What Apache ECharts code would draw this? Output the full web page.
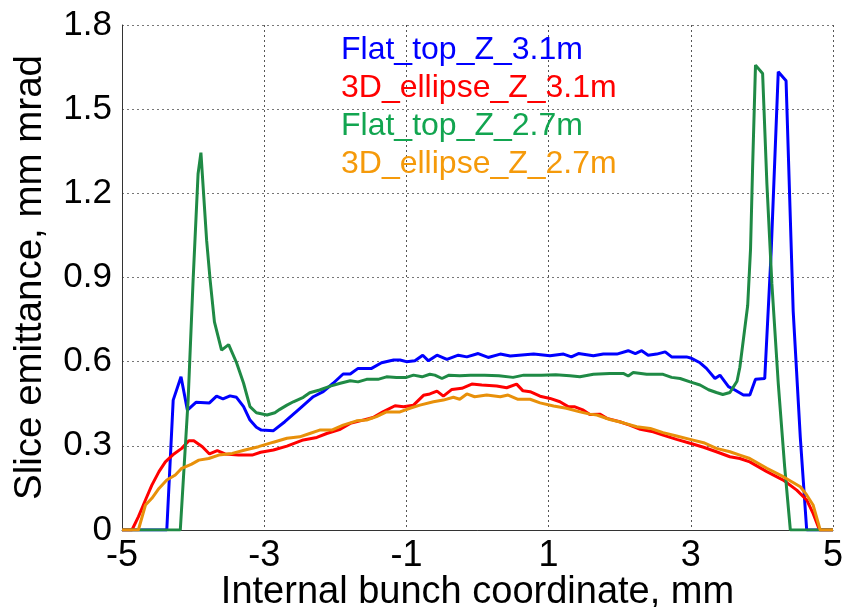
<!DOCTYPE html>
<html>
<head>
<meta charset="utf-8">
<script src="https://cdn.jsdelivr.net/npm/echarts@6/dist/echarts.min.js"></script>
<style>
html,body{margin:0;padding:0;background:#fff;}
#c{width:846px;height:607px;}
</style>
</head>
<body>
<div id="c"></div>
<script>
// ---- data ----
const seriesNames = ['Flat_top_Z_3.1m', '3D_ellipse_Z_3.1m', 'Flat_top_Z_2.7m', '3D_ellipse_Z_2.7m'];

const xFlat31 = [-5, -4.37, -4.28, -4.17, -4.08, -3.96, -3.77, -3.67, -3.58, -3.48, -3.39, -3.29, -3.20, -3.11, -3.04, -2.87, -2.71, -2.50, -2.31, -2.17, -2.03, -1.89, -1.79, -1.68, -1.49, -1.35, -1.18, -1.09, -1.00, -0.88, -0.77, -0.69, -0.57, -0.43, -0.27, -0.15, 0.01, 0.15, 0.32, 0.46, 0.79, 1.02, 1.21, 1.32, 1.42, 1.63, 1.77, 1.96, 2.12, 2.22, 2.31, 2.40, 2.52, 2.64, 2.73, 2.94, 3.01, 3.13, 3.22, 3.34, 3.41, 3.53, 3.62, 3.74, 3.83, 3.91, 4.04, 4.13, 4.23, 4.34, 4.44, 4.54, 4.63, 5];
const yFlat31 = [0, 0, 0.463, 0.546, 0.427, 0.455, 0.453, 0.477, 0.467, 0.478, 0.473, 0.440, 0.392, 0.366, 0.356, 0.354, 0.386, 0.433, 0.475, 0.493, 0.523, 0.556, 0.556, 0.576, 0.576, 0.596, 0.606, 0.606, 0.600, 0.603, 0.623, 0.603, 0.623, 0.608, 0.623, 0.617, 0.629, 0.615, 0.627, 0.620, 0.627, 0.621, 0.627, 0.617, 0.629, 0.621, 0.627, 0.627, 0.639, 0.629, 0.639, 0.623, 0.627, 0.635, 0.617, 0.617, 0.612, 0.596, 0.576, 0.540, 0.552, 0.511, 0.499, 0.481, 0.481, 0.537, 0.540, 0.990, 1.633, 1.601, 0.780, 0.330, 0, 0];

const xEll31 = [-5, -4.86, -4.77, -4.67, -4.58, -4.48, -4.39, -4.27, -4.16, -4.06, -3.99, -3.87, -3.77, -3.66, -3.55, -3.36, -3.17, -3.05, -2.87, -2.68, -2.45, -2.26, -2.12, -1.93, -1.79, -1.65, -1.47, -1.33, -1.16, -1.04, -0.90, -0.76, -0.67, -0.57, -0.48, -0.36, -0.22, -0.08, 0.06, 0.27, 0.41, 0.55, 0.64, 0.74, 0.88, 1.02, 1.16, 1.28, 1.37, 1.49, 1.58, 1.72, 1.82, 2.00, 2.14, 2.29, 2.47, 2.61, 2.80, 2.99, 3.18, 3.36, 3.55, 3.69, 3.83, 4.07, 4.30, 4.49, 4.63, 4.72, 4.81, 5];
const yEll31 = [0, 0, 0.047, 0.107, 0.160, 0.208, 0.243, 0.271, 0.291, 0.318, 0.318, 0.297, 0.271, 0.283, 0.271, 0.267, 0.267, 0.277, 0.285, 0.299, 0.321, 0.330, 0.344, 0.359, 0.380, 0.389, 0.401, 0.421, 0.443, 0.439, 0.445, 0.480, 0.485, 0.495, 0.477, 0.501, 0.505, 0.520, 0.517, 0.513, 0.507, 0.520, 0.496, 0.493, 0.477, 0.469, 0.457, 0.439, 0.439, 0.427, 0.412, 0.413, 0.398, 0.386, 0.374, 0.359, 0.350, 0.338, 0.323, 0.309, 0.295, 0.279, 0.261, 0.255, 0.243, 0.208, 0.178, 0.142, 0.107, 0.059, 0, 0];

const xFlat27 = [-5, -4.18, -4.07, -4.00, -3.93, -3.89, -3.81, -3.76, -3.70, -3.60, -3.50, -3.39, -3.29, -3.20, -3.11, -2.96, -2.85, -2.78, -2.68, -2.59, -2.45, -2.36, -2.22, -2.07, -1.93, -1.79, -1.68, -1.56, -1.40, -1.28, -1.14, -1.00, -0.90, -0.78, -0.67, -0.60, -0.50, -0.40, -0.25, -0.10, 0.10, 0.30, 0.50, 0.65, 0.90, 1.10, 1.30, 1.44, 1.63, 1.86, 2.05, 2.12, 2.19, 2.38, 2.61, 2.73, 2.85, 2.99, 3.13, 3.25, 3.36, 3.45, 3.55, 3.60, 3.65, 3.69, 3.74, 3.80, 3.84, 3.87, 3.91, 4.01, 4.07, 4.14, 4.23, 4.32, 4.40, 5];
const yFlat27 = [0, 0, 0.463, 0.890, 1.270, 1.345, 1.033, 0.890, 0.742, 0.641, 0.661, 0.597, 0.523, 0.440, 0.418, 0.410, 0.418, 0.430, 0.445, 0.457, 0.473, 0.489, 0.499, 0.513, 0.523, 0.532, 0.528, 0.537, 0.537, 0.546, 0.544, 0.544, 0.552, 0.546, 0.555, 0.552, 0.540, 0.552, 0.550, 0.552, 0.552, 0.550, 0.544, 0.552, 0.552, 0.553, 0.550, 0.546, 0.555, 0.558, 0.558, 0.549, 0.561, 0.555, 0.555, 0.544, 0.540, 0.528, 0.517, 0.500, 0.490, 0.483, 0.490, 0.510, 0.530, 0.580, 0.680, 0.800, 1.000, 1.300, 1.657, 1.627, 1.235, 0.879, 0.523, 0.226, 0, 0];

const xEll27 = [-5, -4.77, -4.67, -4.58, -4.48, -4.37, -4.25, -4.16, -4.02, -3.92, -3.78, -3.64, -3.45, -3.27, -3.08, -2.87, -2.68, -2.50, -2.36, -2.22, -2.05, -1.89, -1.70, -1.56, -1.42, -1.28, -1.09, -0.95, -0.81, -0.62, -0.48, -0.34, -0.25, -0.15, -0.04, 0.13, 0.32, 0.43, 0.57, 0.74, 0.88, 1.07, 1.25, 1.44, 1.58, 1.68, 1.86, 2.05, 2.24, 2.43, 2.61, 2.80, 2.99, 3.18, 3.36, 3.55, 3.69, 3.83, 4.07, 4.30, 4.54, 4.63, 4.72, 4.82, 5];
const yEll27 = [0, 0, 0.089, 0.113, 0.148, 0.178, 0.196, 0.220, 0.235, 0.249, 0.255, 0.267, 0.273, 0.285, 0.297, 0.313, 0.327, 0.332, 0.344, 0.356, 0.356, 0.374, 0.389, 0.392, 0.404, 0.421, 0.421, 0.434, 0.445, 0.457, 0.463, 0.473, 0.466, 0.485, 0.475, 0.481, 0.475, 0.481, 0.466, 0.466, 0.453, 0.442, 0.434, 0.421, 0.413, 0.410, 0.394, 0.382, 0.368, 0.362, 0.347, 0.335, 0.323, 0.311, 0.291, 0.279, 0.267, 0.255, 0.220, 0.190, 0.154, 0.125, 0.089, 0, 0];

const xTitle = 'Internal bunch coordinate, mm';
const yTitle = 'Slice emittance, mm mrad';

// ---- styling ----
const lineColors = ['#0000FF', '#FF0000', '#1F8A45', '#E8900A'];
const legendColors = ['#0000FF', '#FF0000', '#12A550', '#F59A0A'];
const FONT = '"Liberation Sans", Arial, sans-serif';

function pairs(xs, ys) { return xs.map((x, i) => [x, ys[i]]); }
const allData = [pairs(xFlat31, yFlat31), pairs(xEll31, yEll31), pairs(xFlat27, yFlat27), pairs(xEll27, yEll27)];

const chart = echarts.init(document.getElementById('c'), null, {renderer: 'canvas'});
chart.setOption({
  animation: false,
  backgroundColor: '#ffffff',
  textStyle: {fontFamily: FONT},
  grid: {left: 122, right: 13, top: 25, bottom: 77, containLabel: false, outerBoundsMode: 'none'},
  legend: {
    orient: 'vertical',
    left: 336,
    top: 34,
    padding: 0,
    itemGap: 6,
    itemWidth: 0,
    itemHeight: 0,
    icon: 'none',
    selectedMode: false,
    data: seriesNames.map((n, i) => ({name: n, textStyle: {color: legendColors[i], fontSize: 32, fontFamily: FONT}}))
  },
  xAxis: {
    type: 'value', min: -5, max: 5, interval: 2,
    name: xTitle, nameLocation: 'middle', nameGap: 44, nameMoveOverlap: false,
    nameTextStyle: {fontSize: 38, color: '#000', fontFamily: FONT},
    axisLine: {show: true, onZero: false, lineStyle: {color: '#333', width: 1}},
    axisTick: {show: false},
    axisLabel: {fontSize: 36, color: '#000', margin: 8, fontFamily: FONT},
    splitLine: {show: true, lineStyle: {color: '#555', type: [2, 3], width: 1}}
  },
  yAxis: {
    type: 'value', min: 0, max: 1.8, interval: 0.3,
    name: yTitle, nameLocation: 'middle', nameGap: 72, nameMoveOverlap: false,
    nameTextStyle: {fontSize: 38.5, color: '#000', fontFamily: FONT},
    axisLine: {show: true, onZero: false, lineStyle: {color: '#333', width: 1}},
    axisTick: {show: false},
    axisLabel: {fontSize: 35, color: '#000', margin: 10, fontFamily: FONT},
    splitLine: {show: true, lineStyle: {color: '#777', type: [2, 3], width: 1}}
  },
  series: seriesNames.map((n, i) => ({
    name: n, type: 'line', data: allData[i], showSymbol: false, symbol: 'none',
    lineStyle: {color: lineColors[i], width: 3}, itemStyle: {color: lineColors[i]},
    z: 2 + i
  }))
});
</script>
</body>
</html>
